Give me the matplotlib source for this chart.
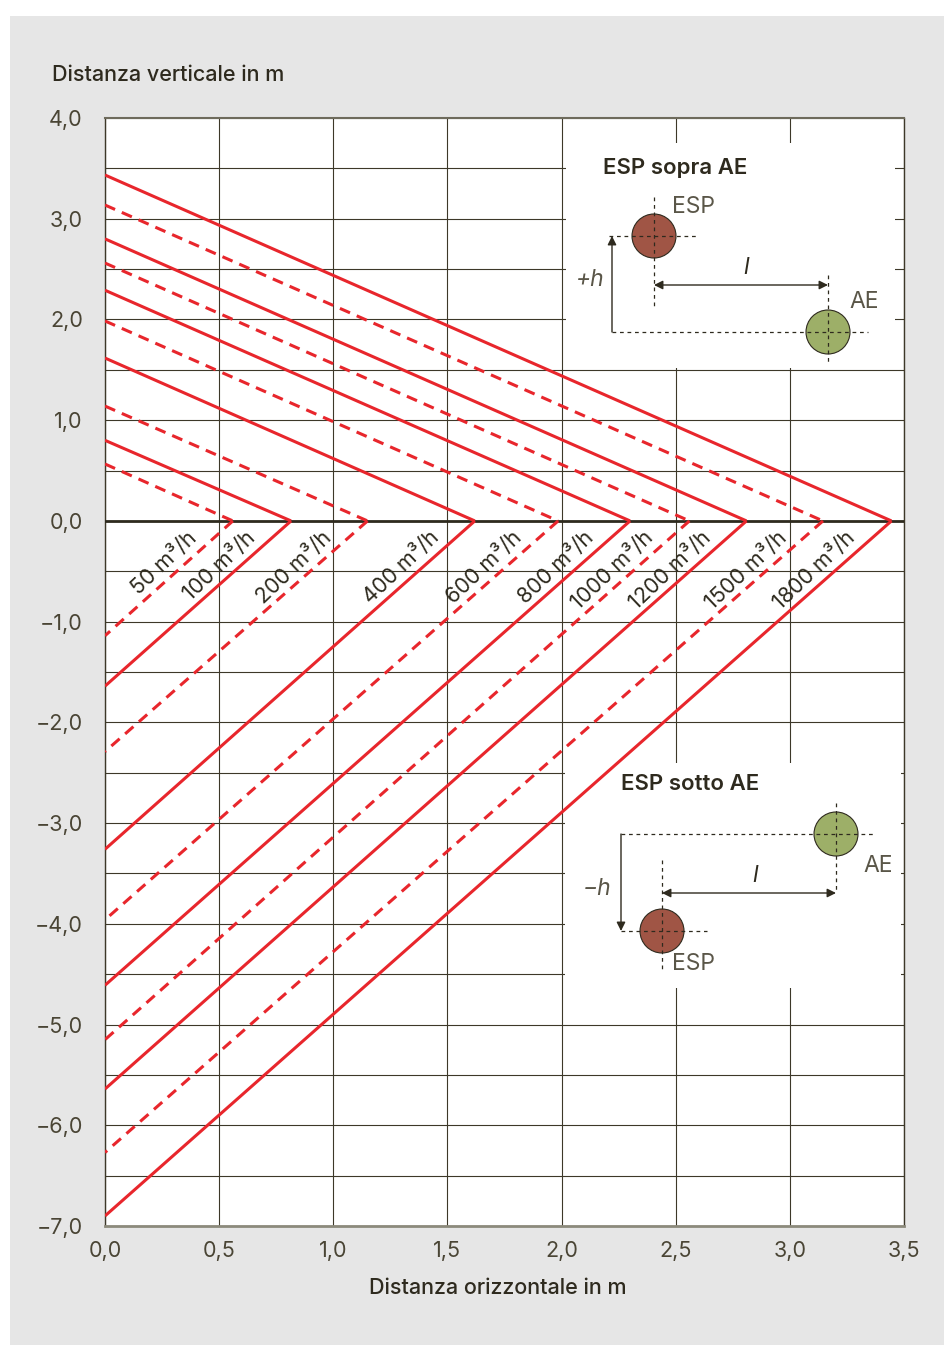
import numpy as np
import matplotlib
matplotlib.use('Agg')
import matplotlib.pyplot as plt
from matplotlib.patches import Rectangle, Circle

plt.rcParams['font.family'] = ['Inter', 'DejaVu Sans']

# Dati: portata, distanza orizzontale a quota 0, intercette sull'asse verticale
portate = [50, 100, 200, 400, 600, 800, 1000, 1200, 1500, 1800]
x_zero = [0.56, 0.815, 1.15, 1.62, 1.985, 2.30, 2.56, 2.81, 3.145, 3.445]
y_sopra = [0.565, 0.80, 1.14, 1.617, 1.985, 2.29, 2.56, 2.80, 3.136, 3.434]
y_sotto = [-1.14, -1.64, -2.29, -3.26, -3.96, -4.61, -5.15, -5.64, -6.27, -6.90]
tratteggio = [True, False, True, False, True, False, True, False, True, False]

x_ticks = [0.0, 0.5, 1.0, 1.5, 2.0, 2.5, 3.0, 3.5]
y_ticks = [-7, -6, -5, -4, -3, -2, -1, 0, 1, 2, 3, 4]

# Colori
rosso = '#e8262c'
scuro = '#2e2a1e'
testo_tick = '#4a4535'
grigio = '#5a5648'
griglia = '#3d3829'
marrone = '#a05545'
verde = '#9daf68'

W, H = 944, 1345
fig = plt.figure(figsize=(W / 100, H / 100), dpi=100)
fig.patch.set_facecolor('white')
fig.patches.append(Rectangle((10 / W, 0), 1, (H - 16) / H, transform=fig.transFigure,
                             facecolor='#e6e6e6', edgecolor='none', zorder=-10))

ax = fig.add_axes([105 / W, 119 / H, 799 / W, 1108 / H])
ax.set_facecolor('white')
ax.set_xlim(0, 3.5)
ax.set_ylim(-7, 4)

ax.set_xticks(x_ticks)
ax.set_xticklabels([f"{v:.1f}".replace('.', ',') for v in x_ticks])
ax.set_yticks(y_ticks)
ax.set_yticklabels([f"{v:.1f}".replace('.', ',').replace('-', '\u2212') for v in y_ticks])
ax.set_yticks(np.arange(-6.5, 4, 1.0), minor=True)
ax.tick_params(which='both', length=0, labelsize=15.5, labelcolor=testo_tick)
ax.tick_params(axis='y', pad=16)
ax.tick_params(axis='x', pad=11)
ax.set_axisbelow(True)
ax.grid(which='both', color=griglia, lw=0.8)

for s in ['left', 'right']:
    ax.spines[s].set_color(griglia)
    ax.spines[s].set_linewidth(1.0)
ax.spines['top'].set_color('#6e6b5c')
ax.spines['top'].set_linewidth(1.5)
ax.spines['bottom'].set_color('#8c8a7c')
ax.spines['bottom'].set_linewidth(2.0)

# riquadri bianchi per gli schemi
ax.add_patch(Rectangle((2.02, 1.52), 1.44, 2.23, facecolor='white', edgecolor='none', zorder=1))
ax.add_patch(Rectangle((2.015, -4.64), 1.47, 2.24, facecolor='white', edgecolor='none', zorder=1))

ax.axhline(0, color=scuro, lw=2.0, zorder=3)

# angolo delle rette inferiori in pixel
p0 = ax.transData.transform((0, 0))
p1 = ax.transData.transform((1, 2))
ang = np.degrees(np.arctan2(p1[1] - p0[1], p1[0] - p0[0]))

for q, x0, yt, yb, d in zip(portate, x_zero, y_sopra, y_sotto, tratteggio):
    kw = dict(color=rosso, lw=2.2, zorder=4, solid_capstyle='butt')
    if d:
        kw['dashes'] = (3.6, 2.4)
    ax.plot([0, x0], [yt, 0], **kw)
    ax.plot([x0, 0], [0, yb], **kw)
    ya = -0.25
    xa = x0 + ya / 2
    ax.annotate(f"{q} m³/h", xy=(xa, ya), xytext=(-2.6, 3.0), textcoords='offset points',
                rotation=ang + 2, rotation_mode='anchor', ha='right', va='bottom',
                fontsize=15.5, color=scuro, zorder=5)

fig.text(52 / W, 1 - 75 / H, "Distanza verticale in m", fontsize=15.5, color=scuro,
         weight='medium', ha='left', va='center')
fig.text(498 / W, 1 - 1288 / H, "Distanza orizzontale in m", fontsize=15.5, color=scuro,
         weight='medium', ha='center', va='center')

# schemi (coordinate in pixel della figura)
ov = fig.add_axes([0, 0, 1, 1])
ov.set_xlim(0, W)
ov.set_ylim(H, 0)
ov.axis('off')

r = 22
tr = dict(color=scuro, lw=0.9, dashes=(3, 3))
fr = dict(arrowstyle='-|>', color=scuro, lw=1.0, mutation_scale=13, shrinkA=0, shrinkB=0)
ff = dict(arrowstyle='<|-|>', color=scuro, lw=1.0, mutation_scale=13, shrinkA=0, shrinkB=0)

# ESP sopra AE
esp1 = (654, 236)
ae1 = (828, 332)
ov.text(603, 168, "ESP sopra AE", fontsize=16, weight='semibold', color=scuro, va='center')
ov.add_patch(Circle(esp1, r, facecolor=marrone, edgecolor=scuro, lw=0.8))
ov.add_patch(Circle(ae1, r, facecolor=verde, edgecolor=scuro, lw=0.8))
ov.plot([esp1[0], esp1[0]], [197, 306], **tr)
ov.plot([609, 699], [esp1[1], esp1[1]], **tr)
ov.plot([612, 868], [ae1[1], ae1[1]], **tr)
ov.plot([ae1[0], ae1[0]], [275, 365], **tr)
ov.annotate('', xy=(612, esp1[1]), xytext=(612, ae1[1]), arrowprops=fr)
ov.annotate('', xy=(esp1[0], 285), xytext=(ae1[0], 285), arrowprops=ff)
ov.text(672, 207, "ESP", fontsize=16.5, color=grigio, va='center')
ov.text(849, 302, "AE", fontsize=16.5, color=grigio, va='center')
ov.text(746, 268, "l", fontsize=16.5, color=scuro, style='italic', va='center', ha='center')
ov.text(590, 280, "+h", fontsize=16.5, color=grigio, style='italic', va='center', ha='center')

# ESP sotto AE
ae2 = (836, 834)
esp2 = (662, 931)
ov.text(621, 784, "ESP sotto AE", fontsize=16, weight='semibold', color=scuro, va='center')
ov.add_patch(Circle(ae2, r, facecolor=verde, edgecolor=scuro, lw=0.8))
ov.add_patch(Circle(esp2, r, facecolor=marrone, edgecolor=scuro, lw=0.8))
ov.plot([621, 876], [ae2[1], ae2[1]], **tr)
ov.plot([621, 707], [esp2[1], esp2[1]], **tr)
ov.plot([esp2[0], esp2[0]], [860, 972], **tr)
ov.plot([ae2[0], ae2[0]], [803, 893], **tr)
ov.annotate('', xy=(621, esp2[1]), xytext=(621, ae2[1]), arrowprops=fr)
ov.annotate('', xy=(esp2[0], 893), xytext=(ae2[0], 893), arrowprops=ff)
ov.text(878, 866, "AE", fontsize=16.5, color=grigio, va='center', ha='center')
ov.text(672, 964, "ESP", fontsize=16.5, color=grigio, va='center')
ov.text(755, 876, "l", fontsize=16.5, color=scuro, style='italic', va='center', ha='center')
ov.text(597, 889, "\u2212h", fontsize=16.5, color=grigio, style='italic', va='center', ha='center')

fig.savefig('out.png', dpi=100, facecolor=fig.get_facecolor())
